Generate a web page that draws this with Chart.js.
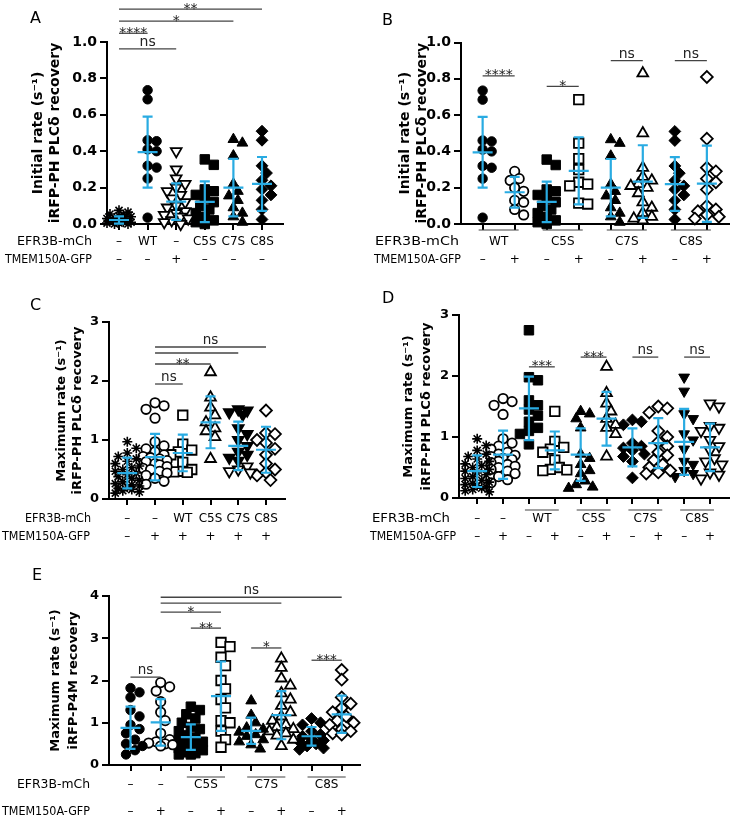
<!DOCTYPE html>
<html><head><meta charset="utf-8">
<script src="https://cdn.jsdelivr.net/npm/chart.js@4.4.1/dist/chart.umd.min.js"></script>
<style>
html,body{margin:0;padding:0;background:#fff;}
body{width:737px;height:818px;position:relative;overflow:hidden;}
.pn{position:absolute;}
canvas{display:block;}
</style></head><body>
<div class="pn" style="left:0;top:0"><canvas id="cA" width="370" height="275"></canvas></div>
<div class="pn" style="left:368px;top:0"><canvas id="cB" width="369" height="275"></canvas></div>
<div class="pn" style="left:0;top:278px"><canvas id="cC" width="370" height="272"></canvas></div>
<div class="pn" style="left:368px;top:278px"><canvas id="cD" width="369" height="272"></canvas></div>
<div class="pn" style="left:0;top:548px"><canvas id="cE" width="420" height="270"></canvas></div>
<script>
// ---------------- DATA ----------------
// Initial rate, iRFP-PH PLCδ recovery (s^-1)
const initNone   = [0.075,0.065,0.055,0.05,0.045,0.04,0.035,0.03,0.03,0.025,0.02,0.02,0.015,0.01,0.01,0.005,0.005,0.0,0.0];
const initWT     = [0.735,0.685,0.46,0.455,0.41,0.40,0.32,0.31,0.25,0.035];
const initTMEM   = [0.40,0.30,0.25,0.22,0.20,0.18,0.16,0.14,0.12,0.10,0.09,0.07,0.06,0.05,0.04,0.03,0.02,0.01,0.0];
const initC5S    = [0.355,0.325,0.19,0.18,0.16,0.14,0.12,0.10,0.08,0.06,0.04,0.02,0.01,0.0];
const initC7S    = [0.465,0.445,0.375,0.22,0.18,0.155,0.13,0.09,0.06,0.04,0.01];
const initC8S    = [0.51,0.46,0.32,0.28,0.24,0.21,0.19,0.16,0.13,0.08,0.025];
const initWTplus  = [0.29,0.25,0.24,0.20,0.18,0.13,0.12,0.08,0.05];
const initC5Splus = [0.685,0.445,0.36,0.30,0.23,0.22,0.21,0.115,0.11];
const initC7Splus = [0.83,0.50,0.31,0.26,0.24,0.22,0.21,0.20,0.17,0.12,0.09,0.06,0.04,0.03,0.02];
const initC8Splus = [0.81,0.47,0.31,0.29,0.25,0.23,0.19,0.10,0.08,0.07,0.05,0.04,0.03];

// Maximum rate, iRFP-PH PLCδ recovery (s^-1)
const maxNone    = [0.97,0.86,0.78,0.72,0.68,0.64,0.60,0.56,0.53,0.50,0.47,0.44,0.41,0.38,0.35,0.32,0.29,0.26,0.24,0.22,0.20,0.18,0.16,0.14,0.12,0.10];
const maxTMEM    = [1.63,1.58,1.52,1.37,0.97,0.90,0.85,0.80,0.75,0.72,0.70,0.68,0.65,0.63,0.60,0.58,0.55,0.52,0.50,0.47,0.44,0.40,0.35,0.30,0.25];
const maxWTplus  = [1.42,0.93,0.83,0.80,0.75,0.62,0.50,0.47,0.46,0.45];
const maxC5Splus = [2.15,1.72,1.55,1.42,1.30,1.20,1.15,1.05,0.68];
const maxC7SplusC = [1.52,1.50,1.47,1.43,1.20,1.10,1.00,0.90,0.80,0.75,0.70,0.65,0.55,0.50,0.47,0.45];
const maxC8SplusC = [1.50,1.12,1.10,1.00,0.95,0.85,0.75,0.60,0.50,0.45,0.40,0.32];
const maxWT      = [2.75,1.98,1.93,1.60,1.52,1.45,1.35,1.25,1.15,1.10,1.05,0.88];
const maxC5S     = [1.42,1.38,1.30,1.15,0.72,0.65,0.55,0.45,0.40,0.28,0.22,0.18,0.16];
const maxC7S     = [1.28,1.25,1.20,0.90,0.85,0.82,0.78,0.72,0.68,0.60,0.33];
const maxC7Splus = [1.50,1.47,1.40,1.10,1.00,0.92,0.85,0.75,0.70,0.62,0.55,0.50,0.45,0.42,0.40];
const maxC8S     = [1.98,1.75,1.38,1.30,1.05,0.95,0.80,0.60,0.55,0.45,0.40,0.35];
const maxC8Splus = [1.55,1.50,1.18,1.15,1.10,0.95,0.85,0.78,0.65,0.60,0.55,0.42,0.38,0.32];

// Maximum rate, iRFP-P4M recovery (s^-1)
const p4mNone    = [1.82,1.72,1.60,1.30,1.15,0.95,0.85,0.75,0.60,0.50,0.45,0.35,0.25];
const p4mTMEM    = [1.95,1.85,1.75,1.50,1.25,1.05,0.75,0.60,0.55,0.52,0.50,0.48,0.45];
const p4mC5S     = [1.38,1.30,1.20,1.10,1.00,0.90,0.85,0.80,0.70,0.65,0.60,0.55,0.50,0.45,0.40,0.35,0.30,0.28,0.25,0.25];
const p4mC5Splus = [2.90,2.80,2.55,2.35,2.00,1.80,1.55,1.35,1.05,1.00,0.80,0.60,0.42];
const p4mC7S     = [1.52,1.18,1.00,0.88,0.85,0.78,0.72,0.68,0.60,0.55,0.48,0.38];
const p4mC7Splus = [2.52,2.30,2.05,1.88,1.70,1.55,1.40,1.25,1.15,1.05,0.95,0.90,0.85,0.80,0.75,0.70,0.60,0.45];
const p4mC8S     = [1.10,1.00,0.95,0.80,0.72,0.68,0.62,0.58,0.55,0.50,0.45,0.40,0.37];
const p4mC8Splus = [2.25,2.02,1.60,1.45,1.35,1.25,1.15,1.05,1.00,0.95,0.85,0.80,0.75,0.72];

// mean and SD (blue bars) per group
const A_means = [0.022,0.395,0.123,0.122,0.20,0.22];
const A_sds   = [0.020,0.195,0.100,0.112,0.158,0.148];
const B_means = [0.395,0.175,0.122,0.293,0.20,0.234,0.22,0.222];
const B_sds   = [0.195,0.085,0.112,0.185,0.158,0.20,0.148,0.21];
const C_means = [0.44,0.71,0.78,1.30,0.90,0.835];
const C_sds   = [0.26,0.395,0.31,0.44,0.41,0.39];
const D_means = [0.44,0.71,1.47,0.78,0.71,1.30,0.83,0.90,0.92,0.83];
const D_sds   = [0.26,0.395,0.52,0.31,0.43,0.44,0.31,0.41,0.54,0.39];
const E_means = [0.88,1.01,0.66,1.63,0.81,1.18,0.68,1.20];
const E_sds   = [0.50,0.55,0.30,0.82,0.31,0.57,0.22,0.44];

// condition rows
const A_efr  = [[0,0,'–'],[1,1,'WT'],[2,2,'–'],[3,3,'C5S'],[4,4,'C7S'],[5,5,'C8S']];
const A_tmem = ['–','–','+','–','–','–'];
const B_efr  = [[0,1,'WT'],[2,3,'C5S'],[4,5,'C7S'],[6,7,'C8S']];
const B_tmem = ['–','+','–','+','–','+','–','+'];
const C_efr  = [[0,0,'–'],[1,1,'–'],[2,2,'WT'],[3,3,'C5S'],[4,4,'C7S'],[5,5,'C8S']];
const C_tmem = ['–','+','+','+','+','+'];
const D_efr  = [[0,0,'–'],[1,1,'–'],[2,3,'WT'],[4,5,'C5S'],[6,7,'C7S'],[8,9,'C8S']];
const D_tmem = ['–','+','–','+','–','+','–','+','–','+'];
const E_efr  = [[0,0,'–'],[1,1,'–'],[2,3,'C5S'],[4,5,'C7S'],[6,7,'C8S']];
const E_tmem = ['–','+','–','+','–','+','–','+'];

// significance comparisons [from group, to group, height (axis units), label]
const A_sig = [[0,5,1.181,'**'],[0,4,1.115,'*'],[0,1,1.048,'****'],[0,2,0.962,'ns']];
const B_sig = [[0,1,0.816,'****'],[2,3,0.758,'*'],[4,5,0.90,'ns'],[6,7,0.90,'ns']];
const C_sig = [[1,5,2.576,'ns'],[1,4,2.475,''],[1,3,2.288,'**'],[1,2,1.949,'ns']];
const D_sig = [[2,3,2.15,'***'],[4,5,2.31,'***'],[6,7,2.31,'ns'],[8,9,2.31,'ns']];
const E_sig = [[1,7,3.97,'ns'],[1,5,3.83,''],[1,3,3.62,'*'],[2,3,3.24,'**'],[4,5,2.77,'*'],[6,7,2.48,'***'],[0,1,2.08,'ns']];

// axis ticks and titles
const A_yTicks = [0,0.2,0.4,0.6,0.8,1.0];
const C_yTicks = [0,1,2,3];
const E_yTicks = [0,1,2,3,4];
const initTitle = ['Initial rate (s\u207B\u00B9)','iRFP-PH PLC\u03B4 recovery'];
const maxTitle  = ['Maximum rate (s\u207B\u00B9)','iRFP-PH PLC\u03B4 recovery'];
const p4mTitle  = ['Maximum rate (s\u207B\u00B9)','iRFP-P4M recovery'];
const rowNames  = ['EFR3B-mCh','TMEM150A-GFP'];

// ---------------- STYLE / LAYOUT ----------------
const FONT = 'DejaVu Sans';
const BLUE = '#29ABE2';
const MK = {
  star:['star',true], circF:['circle',true], circO:['circle',false],
  sqF:['rect',true], sqO:['rect',false], triF:['triangle',true], triO:['triangle',false],
  dtriF:['triangle',true,true], dtriO:['triangle',false,true], dtriM:['triangle','mix',true],
  diaF:['rectRot',true], diaO:['rectRot',false]
};
const RAD = {star:5, circle:4.7, rect:6.7, triangle:6.2, rectRot:5.9};

// rowBox: [left x, target width] of the two row names (page px)
const panels = [
 {id:'cA', ox:0, oy:0, letter:'A', lx:30, ly:23,
  values:[initNone,initWT,initTMEM,initC5S,initC7S,initC8S], means:A_means, sds:A_sds,
  markers:['star','circF','dtriO','sqF','triF','diaF'],
  efr:A_efr, tmem:A_tmem, sig:A_sig, yTicks:A_yTicks, dec:1, title:initTitle,
  axisX:107, right:283, top:42, bottom:224, cat0:119, catN:262,
  tickSize:14, titleSize:14, sigSize:14, titleX:[38,55], efrY:242, tmY:260, ulY:null,
  rowBox:[[17,75],[5,87]]},
 {id:'cB', ox:368, oy:0, letter:'B', lx:382, ly:25,
  values:[initWT,initWTplus,initC5S,initC5Splus,initC7S,initC7Splus,initC8S,initC8Splus], means:B_means, sds:B_sds,
  markers:['circF','circO','sqF','sqO','triF','triO','diaF','diaO'],
  efr:B_efr, tmem:B_tmem, sig:B_sig, yTicks:A_yTicks, dec:1, title:initTitle,
  axisX:461, right:733, top:42.5, bottom:224, cat0:483, catN:711,
  tickSize:14, titleSize:14, sigSize:14, titleX:[405,422], efrY:242, tmY:260, ulY:230,
  rowBox:[[375,84],[374,87]]},
 {id:'cC', ox:0, oy:278, letter:'C', lx:30, ly:310,
  values:[maxNone,maxTMEM,maxWTplus,maxC5Splus,maxC7SplusC,maxC8SplusC], means:C_means, sds:C_sds,
  markers:['star','circO','sqO','triO','dtriM','diaO'],
  efr:C_efr, tmem:C_tmem, sig:C_sig, yTicks:C_yTicks, dec:0, title:maxTitle,
  axisX:109, right:285, top:322, bottom:499, cat0:127.3, catN:266,
  tickSize:13, titleSize:13, sigSize:13.5, titleX:[62,78], efrY:519, tmY:537, ulY:null,
  rowBox:[[25,66],[2,88]]},
 {id:'cD', ox:368, oy:278, letter:'D', lx:382, ly:303,
  values:[maxNone,maxTMEM,maxWT,maxWTplus,maxC5S,maxC5Splus,maxC7S,maxC7Splus,maxC8S,maxC8Splus], means:D_means, sds:D_sds,
  markers:['star','circO','sqF','sqO','triF','triO','diaF','diaO','dtriF','dtriO'],
  efr:D_efr, tmem:D_tmem, sig:D_sig, yTicks:C_yTicks, dec:0, title:maxTitle,
  axisX:459, right:736, top:315, bottom:498, cat0:477.7, catN:717,
  tickSize:13, titleSize:13, sigSize:13.5, titleX:[409,427], efrY:519, tmY:537, ulY:510,
  rowBox:[[372,78],[370,86]]},
 {id:'cE', ox:0, oy:548, letter:'E', lx:32, ly:580,
  values:[p4mNone,p4mTMEM,p4mC5S,p4mC5Splus,p4mC7S,p4mC7Splus,p4mC8S,p4mC8Splus], means:E_means, sds:E_sds,
  markers:['circF','circO','sqF','sqO','triF','triO','diaF','diaO'],
  efr:E_efr, tmem:E_tmem, sig:E_sig, yTicks:E_yTicks, dec:0, title:p4mTitle,
  axisX:109, right:360, top:596, bottom:765, cat0:130.5, catN:341.7,
  tickSize:13, titleSize:13, sigSize:13.5, titleX:[56,74], efrY:785, tmY:812, ulY:777,
  rowBox:[[17,73],[2,88]]}
];

function swarmOffsets(vals, pxY) {
  const order = vals.map((v,i)=>i).sort((a,b)=>vals[b]-vals[a] || a-b);
  const placed = [], off = new Array(vals.length).fill(0);
  const cands = [0,4.5,-4.5,9,-9,12,-12];
  order.forEach(i => {
    const y = vals[i]*pxY;
    let best = 0, bestD = -1;
    for (const c of cands) {
      let md = Infinity;
      placed.forEach(p => { const d = Math.hypot(p.x-c, p.y-y); if (d < md) md = d; });
      if (md >= 8.5) { best = c; bestD = Infinity; break; }
      if (md > bestD + 0.5) { bestD = md; best = c; }
    }
    placed.push({x:best, y}); off[i] = best;
  });
  return off;
}

// draw text left-aligned, horizontally fitted to a target width
function fitText(ctx, text, x, y, width, font) {
  ctx.save();
  ctx.font = font;
  const w = ctx.measureText(text).width;
  ctx.translate(x, y);
  ctx.scale(width / w, 1);
  ctx.textAlign = 'left'; ctx.textBaseline = 'middle';
  ctx.fillText(text, 0, 0);
  ctx.restore();
}

function decoPlugin(p) {
  return {
    id:'deco'+p.id,
    afterDatasetsDraw(chart) {
      const ctx = chart.ctx, xs = chart.scales.x, ys = chart.scales.y;
      ctx.save();
      ctx.strokeStyle = BLUE; ctx.lineWidth = 2.2; ctx.lineCap = 'butt';
      p.means.forEach((m,i) => {
        const x = xs.getPixelForValue(i);
        const yt = ys.getPixelForValue(m + p.sds[i]);
        const yb = ys.getPixelForValue(m - p.sds[i]);
        const ym = ys.getPixelForValue(m);
        ctx.beginPath();
        ctx.moveTo(x,yt); ctx.lineTo(x,yb);
        ctx.moveTo(x-5,yt); ctx.lineTo(x+5,yt);
        ctx.moveTo(x-5,yb); ctx.lineTo(x+5,yb);
        ctx.moveTo(x-10,ym); ctx.lineTo(x+10,ym);
        ctx.stroke();
      });
      ctx.restore();
    },
    afterDraw(chart) {
      const ctx = chart.ctx, xs = chart.scales.x, ys = chart.scales.y;
      const oy = p.oy, ox = p.ox;
      ctx.save();
      // significance bars
      p.sig.forEach(([a,b,h,lab]) => {
        const x1 = xs.getPixelForValue(a), x2 = xs.getPixelForValue(b), y = ys.getPixelForValue(h);
        ctx.strokeStyle = '#444'; ctx.lineWidth = 1.3;
        ctx.beginPath(); ctx.moveTo(x1,y); ctx.lineTo(x2,y); ctx.stroke();
        if (lab) {
          ctx.fillStyle = '#222'; ctx.font = p.sigSize+'px "'+FONT+'"';
          ctx.textAlign = 'center'; ctx.textBaseline = 'alphabetic';
          const star = lab[0] === '*';
          ctx.fillText(lab, (x1+x2)/2, star ? y+3.5 : y-3);
        }
      });
      // condition rows
      ctx.fillStyle = '#000';
      fitText(ctx, rowNames[0], p.rowBox[0][0]-ox, p.efrY-oy, p.rowBox[0][1], '12px "'+FONT+'"');
      fitText(ctx, rowNames[1], p.rowBox[1][0]-ox, p.tmY-oy, p.rowBox[1][1], '12px "'+FONT+'"');
      ctx.textAlign = 'center'; ctx.textBaseline = 'middle';
      ctx.font = '12px "'+FONT+'"';
      p.efr.forEach(([a,b,lab]) => {
        const x1 = xs.getPixelForValue(a), x2 = xs.getPixelForValue(b);
        ctx.fillText(lab, (x1+x2)/2, p.efrY-oy);
        if (b > a && p.ulY !== null) {
          ctx.strokeStyle = '#444'; ctx.lineWidth = 1.2;
          ctx.beginPath(); ctx.moveTo(x1-4, p.ulY-oy); ctx.lineTo(x2+4, p.ulY-oy); ctx.stroke();
        }
      });
      p.tmem.forEach((lab,i) => {
        ctx.fillText(lab, xs.getPixelForValue(i), p.tmY-oy);
      });
      // y-axis title (two lines, rotated)
      const yc = (ys.top + ys.bottom)/2;
      ctx.font = 'bold '+p.titleSize+'px "'+FONT+'"';
      p.title.forEach((t,k) => {
        ctx.save();
        ctx.translate(p.titleX[k]-ox, yc);
        ctx.rotate(-Math.PI/2);
        ctx.textAlign = 'center'; ctx.textBaseline = 'middle';
        ctx.fillText(t, 0, 0);
        ctx.restore();
      });
      // panel letter
      ctx.font = '16px "'+FONT+'"'; ctx.textAlign = 'left'; ctx.textBaseline = 'alphabetic';
      ctx.fillText(p.letter, p.lx-ox, p.ly-oy);
      ctx.restore();
    }
  };
}

function build(p) {
  const cv = document.getElementById(p.id);
  const W = cv.width, H = cv.height;
  const n = p.values.length;
  const step = (p.catN - p.cat0)/(n-1);
  const xmin = -(p.cat0 - p.axisX)/step;
  const xmax = (n-1) + (p.right - p.catN)/step;
  const YW = 40;
  const datasets = p.values.map((vals,gi) => {
    const m = MK[p.markers[gi]];
    const style = m[0];
    let bg;
    if (m[1] === 'mix') bg = (c) => (c.raw && c.raw.y < 0.56) ? '#fff' : '#000';
    else bg = m[1] ? '#000' : '#fff';
    return {
      data: vals.map(v => ({x:gi, y:v})),
      pointStyle: style, pointRotation: m[2] ? 180 : 0,
      pointRadius: RAD[style], pointHoverRadius: RAD[style],
      pointBackgroundColor: bg, pointBorderColor:'#000',
      pointBorderWidth: (m[1] === true) ? (style==='star'?1.6:1) : 1.8,
      showLine:false, clip:false
    };
  });
  const gridOpt = {display:true, drawOnChartArea:false, drawTicks:true, tickLength:7, color:'#000', lineWidth:2};
  const chart = new Chart(cv, {
    type:'scatter',
    data:{datasets},
    options:{
      responsive:false, animation:false, devicePixelRatio:1, events:[],
      layout:{padding:{left:p.axisX-p.ox-YW, top:p.top-p.oy, right:W-(p.right-p.ox), bottom:H-(p.bottom-p.oy)-10}},
      plugins:{legend:{display:false}, tooltip:{enabled:false}},
      scales:{
        x:{type:'linear', min:xmin, max:xmax,
           afterBuildTicks:(s)=>{ s.ticks = p.values.map((_,i)=>({value:i})); },
           afterFit:(s)=>{ s.height = 10; },
           ticks:{display:false},
           grid:Object.assign({}, gridOpt, {tickLength:6}),
           border:{display:true, color:'#000', width:2}},
        y:{type:'linear', min:p.yTicks[0], max:p.yTicks[p.yTicks.length-1],
           afterBuildTicks:(s)=>{ s.ticks = p.yTicks.map(v=>({value:v})); },
           afterFit:(s)=>{ s.width = YW; },
           ticks:{color:'#000', padding:3, font:{family:FONT, weight:'bold', size:p.tickSize},
                  callback:(v)=>Number(v).toFixed(p.dec)},
           grid:gridOpt,
           border:{display:true, color:'#000', width:2}}
      }
    },
    plugins:[decoPlugin(p)]
  });
  const xs = chart.scales.x, ys = chart.scales.y;
  const pxX = Math.abs(xs.getPixelForValue(1) - xs.getPixelForValue(0));
  const pxY = Math.abs(ys.getPixelForValue(0) - ys.getPixelForValue(1));
  chart.data.datasets.forEach((d,gi) => {
    const off = swarmOffsets(p.values[gi], pxY);
    d.data = p.values[gi].map((v,k) => ({x: gi + off[k]/pxX, y: v}));
  });
  chart.update('none');
}
panels.forEach(build);
</script>
</body></html>
